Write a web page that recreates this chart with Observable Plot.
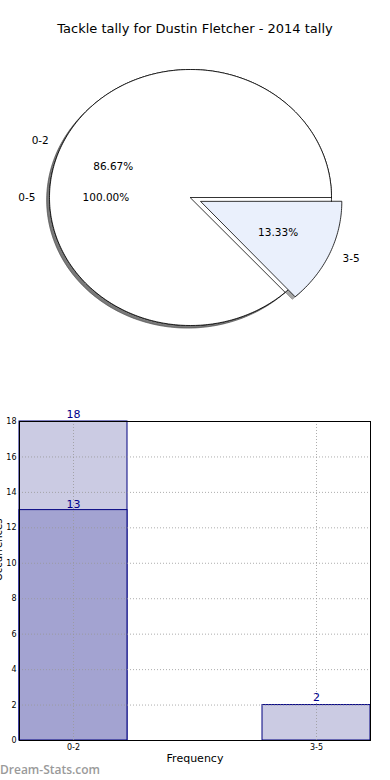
<!DOCTYPE html>
<html><head><meta charset="utf-8">
<script src="https://cdn.jsdelivr.net/npm/d3@7"></script>
<script src="https://cdn.jsdelivr.net/npm/@observablehq/plot@0.6"></script>
<style>
body{margin:0;background:#fff;font-family:"DejaVu Sans",sans-serif;}
#wrap{position:relative;width:390px;height:780px;overflow:hidden;background:#fff;}
#title{position:absolute;top:21px;left:0;width:390px;text-align:center;font-size:13px;color:#000;}
#pie{position:absolute;top:0;left:0;}
#bar{position:absolute;top:390px;left:0;}
#wm{position:absolute;left:0;top:761px;font-family:"Open Sans",sans-serif;font-size:12px;font-weight:600;color:#9a9a9a;}
</style></head>
<body>
<div id="wrap"><div id="pie"></div><div id="title"></div><div id="bar"></div><div id="wm">Dream-Stats.com</div></div>
<script>
const chartTitle = "Tackle tally for Dustin Fletcher - 2014 tally";
const pieLabels = ["0-2", "3-5"];
const pieValues = [13, 2];
const pieColors = ["#ffffff", "#eaf0fc"];
const pieExplode = [0, 0.08];
const totalLabels = ["0-5"];
const totalValues = [15];
const totalColors = ["#ffffff"];
const totalExplode = [0];
const barCategories = ["0-2", "3-5"];
const barTotals = [18, 2];
const barSubset = [13, null];
const yTicks = [0, 2, 4, 6, 8, 10, 12, 14, 16, 18];

document.getElementById("title").textContent = chartTitle;

function wedges(labels, values, colors, explode) {
  const sum = d3.sum(values);
  let acc = 0;
  return labels.map((lab, i) => {
    const a0 = acc / sum * 360;
    acc += values[i];
    const a1 = acc / sum * 360;
    const mid = (a0 + a1) / 2 * Math.PI / 180;
    const ex = explode[i];
    const cx = ex * Math.cos(mid), cy = ex * Math.sin(mid);
    const full = (a1 - a0) >= 359.999;
    const pts = [];
    if (!full) pts.push({x: cx, y: cy});
    const n = Math.max(2, Math.ceil(a1 - a0));
    for (let k = 0; k <= n; k++) {
      const t = (a0 + (a1 - a0) * k / n) * Math.PI / 180;
      pts.push({x: cx + Math.cos(t), y: cy + Math.sin(t)});
    }
    return {
      label: lab, color: colors[i],
      pct: (values[i] / sum * 100).toFixed(2) + "%",
      pts,
      lx: (1.1 + ex) * Math.cos(mid), ly: (1.1 + ex) * Math.sin(mid),
      px: (0.6 + ex) * Math.cos(mid), py: (0.6 + ex) * Math.sin(mid)
    };
  });
}

const all = [...wedges(totalLabels, totalValues, totalColors, totalExplode),
             ...wedges(pieLabels, pieValues, pieColors, pieExplode)];
const sdx = -0.02, sdy = -0.02;
const shadowMarks = all.map(w => Plot.line(w.pts, {
  x: d => d.x + sdx, y: d => d.y + sdy, fill: "#4d4d4d", fillOpacity: 0.5,
  stroke: "#4d4d4d", strokeOpacity: 0.5, strokeWidth: 0.8, curve: "linear-closed"
}));
const wedgeMarks = all.map(w => Plot.line(w.pts, {
  x: "x", y: "y", fill: w.color, stroke: "#000", strokeWidth: 0.8, curve: "linear-closed"
}));
const leftLabels = all.filter(w => w.lx < 0);
const rightLabels = all.filter(w => w.lx >= 0);

const pie = Plot.plot({
  width: 390, height: 380,
  marginLeft: 49, marginRight: 59, marginTop: 69, marginBottom: 55,
  x: {domain: [-1, 1], axis: null},
  y: {domain: [-1, 1], axis: null},
  style: {fontFamily: "DejaVu Sans", background: "transparent", overflow: "visible"},
  marks: [
    ...shadowMarks,
    ...wedgeMarks,
    Plot.text(leftLabels, {x: "lx", y: "ly", text: "label", fontSize: 10.5, fill: "#000", textAnchor: "end"}),
    Plot.text(rightLabels, {x: "lx", y: "ly", text: "label", fontSize: 10.5, fill: "#000", textAnchor: "start"}),
    Plot.text(all, {x: "px", y: "py", text: "pct", fontSize: 10.5, fill: "#000"})
  ]
});
document.getElementById("pie").append(pie);

const totRows = barCategories.map((c, i) => ({cat: c, v: barTotals[i]})).filter(d => d.v != null);
const subRows = barCategories.map((c, i) => ({cat: c, v: barSubset[i]})).filter(d => d.v != null);

const bar = Plot.plot({
  width: 390, height: 390,
  marginTop: 31, marginBottom: 40, marginLeft: 19, marginRight: 20,
  x: {type: "band", domain: barCategories, paddingInner: 0.556, paddingOuter: 0, label: null},
  y: {domain: [0, 18], label: null},
  style: {fontFamily: "DejaVu Sans", fontSize: "8px", background: "transparent", overflow: "visible"},
  marks: [
    Plot.barY(totRows, {x: "cat", y: "v", fill: "#cbcbe3", stroke: "#000080", strokeWidth: 1, insetLeft: 0, insetRight: 0}),
    Plot.barY(subRows, {x: "cat", y: "v", fill: "#a3a3d1", stroke: "#000080", strokeWidth: 1, insetLeft: 0, insetRight: 0}),
    Plot.gridY(yTicks, {stroke: "#999", strokeOpacity: 0.8, strokeDasharray: "1,2"}),
    Plot.gridX(barCategories, {stroke: "#999", strokeOpacity: 0.8, strokeDasharray: "1,2"}),
    Plot.frame({stroke: "#000", strokeWidth: 1}),
    Plot.axisY(yTicks, {tickSize: 0, tickPadding: 3, label: null, fill: "#000"}),
    Plot.axisX({tickSize: 0, tickPadding: 4, label: null, fill: "#000"}),
    Plot.text(totRows, {x: "cat", y: "v", text: d => String(d.v), lineAnchor: "bottom", dy: -4, fill: "#00008b", fontSize: 11}),
    Plot.text(subRows, {x: "cat", y: "v", text: d => String(d.v), lineAnchor: "bottom", dy: -2, fill: "#00008b", fontSize: 11}),
    Plot.text(["Frequency"], {frameAnchor: "bottom", dy: 21, fontSize: 11, fill: "#000"}),
    Plot.text(["Occurrences"], {frameAnchor: "left", dx: -21, rotate: -90, fontSize: 10, fill: "#000"})
  ]
});
document.getElementById("bar").append(bar);
</script>
</body></html>
